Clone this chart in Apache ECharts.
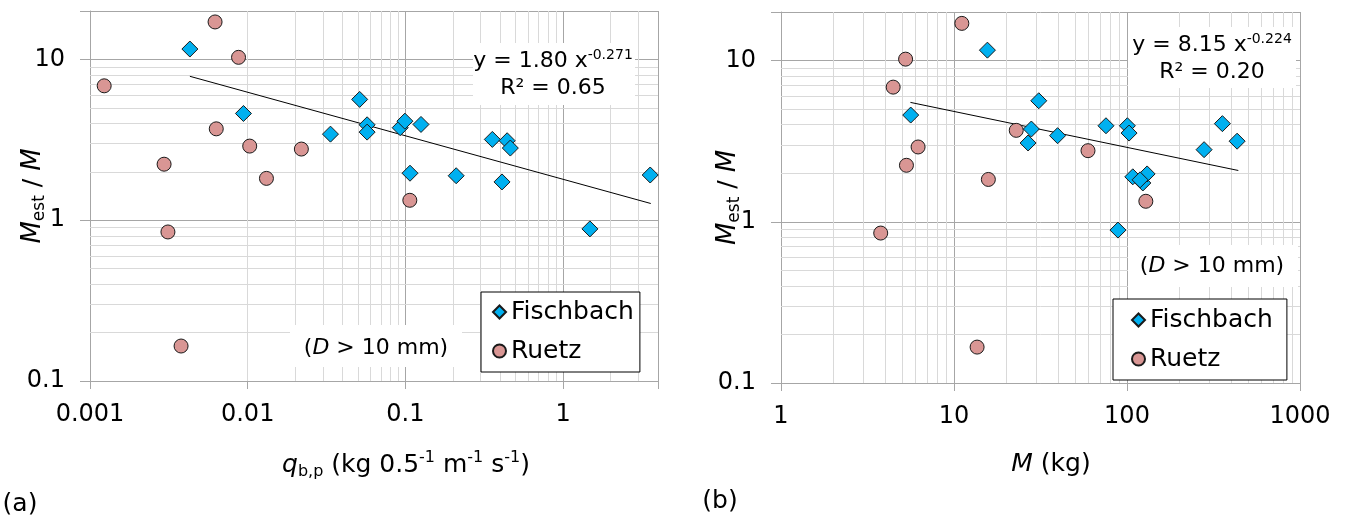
<!DOCTYPE html>
<html><head><meta charset="utf-8">
<script src="https://cdn.jsdelivr.net/npm/echarts@6/dist/echarts.min.js"></script>
<style>html,body{margin:0;padding:0;background:#fff}#c{width:1349px;height:522px}</style>
</head><body><div id="c"></div>
<script>
// ---------- data ----------
// Panel (a): x = q_b,p (kg 0.5^-1 m^-1 s^-1), y = M_est / M
const fischA_x = [0.0043, 0.0094, 0.0335, 0.0513, 0.0572, 0.0572, 0.0927, 0.0993, 0.1256, 0.107, 0.21, 0.356, 0.442, 0.463, 0.41, 1.48, 3.57];
const fischA_y = [11.6, 4.61, 3.43, 5.64, 3.92, 3.53, 3.76, 4.13, 3.94, 1.96, 1.89, 3.18, 3.12, 2.81, 1.73, 0.883, 1.91];
const ruetzA_x = [0.00123, 0.00621, 0.00875, 0.00632, 0.0103, 0.0219, 0.00295, 0.01315, 0.1067, 0.00312, 0.00378];
const ruetzA_y = [6.85, 17.1, 10.3, 3.70, 2.89, 2.77, 2.23, 1.82, 1.33, 0.845, 0.165];
const trendA_x = [0.0043, 3.6];
const trendA_y = [7.85, 1.27];
// Panel (b): x = M (kg), y = M_est / M
const fischB_x = [15.6, 5.62, 30.9, 28.0, 26.8, 39.7, 75.6, 100.5, 102.8, 108, 123.5, 130.7, 119, 88.7, 279, 356, 433];
const fischB_y = [11.6, 4.59, 5.63, 3.76, 3.08, 3.42, 3.94, 3.94, 3.55, 1.90, 1.74, 1.98, 1.82, 0.888, 2.80, 4.06, 3.16];
const ruetzB_x = [11.1, 5.25, 4.45, 3.77, 6.2, 5.31, 15.8, 22.9, 59.5, 128.5, 13.6];
const ruetzB_y = [17.0, 10.2, 6.84, 0.851, 2.91, 2.24, 1.83, 3.69, 2.76, 1.34, 0.167];
const trendB_x = [5.6, 440];
const trendB_y = [5.5, 2.08];
// axis ranges
const xRangeA = [0.001, 4];
const xRangeB = [1, 1000];
const yRange = [0.1, 20];
const minorMult = [2, 3, 4, 5, 6, 7, 8, 9];
const seriesNames = ['Fischbach', 'Ruetz'];

// ---------- helpers ----------
const FONT = '"DejaVu Sans", sans-serif';
const zip = (xs, ys) => xs.map((x, i) => [x, ys[i]]);
function minorValues(r) {
  const out = [];
  for (let e = Math.floor(Math.log10(r[0])); e <= Math.ceil(Math.log10(r[1])); e++) {
    for (const m of minorMult) {
      const v = +(m * Math.pow(10, e)).toPrecision(6);
      if (v > r[0] * 1.0001 && v < r[1] * 0.9999) out.push(v);
    }
  }
  return out;
}
function decadeLabel(v) {
  const l = Math.log10(v);
  if (Math.abs(l - Math.round(l)) > 1e-6) return '';
  return String(+Math.pow(10, Math.round(l)).toPrecision(6));
}
const MAJ = '#a6a6a6', MIN = '#d9d9d9';
function xAxisDef(grid, range, name, nameGap, rich, padLeft) {
  return {
    type: 'log', logBase: 10, gridIndex: grid, min: range[0], max: range[1],
    axisLine: { show: true, onZero: false, lineStyle: { color: MAJ, width: 1 } },
    axisTick: { show: true, length: 8, lineStyle: { color: MAJ } },
    axisLabel: { margin: 22, fontSize: 24, color: '#000', fontFamily: FONT, formatter: decadeLabel },
    splitLine: { show: true, lineStyle: { color: MAJ, width: 1 } },
    name: name, nameLocation: 'middle', nameGap: nameGap, nameMoveOverlap: false,
    nameTextStyle: { fontFamily: FONT, fontSize: 25, color: '#000', padding: [0, 0, 0, padLeft], rich: rich }
  };
}
function yAxisDef(grid, nameGap) {
  return {
    type: 'log', logBase: 10, gridIndex: grid, min: yRange[0], max: yRange[1],
    axisLine: { show: true, onZero: false, lineStyle: { color: MAJ, width: 1 } },
    axisTick: { show: true, length: 10, lineStyle: { color: MAJ } },
    axisLabel: { margin: 25, fontSize: 24, color: '#000', fontFamily: FONT, formatter: decadeLabel },
    splitLine: { show: true, lineStyle: { color: MAJ, width: 1 } },
    name: '{m|M}{s|est}{n| / }{m|M}', nameLocation: 'middle', nameRotate: 90, nameGap: nameGap,
    nameMoveOverlap: false,
    nameTextStyle: {
      fontFamily: FONT, fontSize: 25, color: '#000',
      rich: {
        m: { fontFamily: FONT, fontSize: 26, fontStyle: 'italic', lineHeight: 30, color: '#000' },
        s: { fontFamily: FONT, fontSize: 17, lineHeight: 12, verticalAlign: 'bottom', color: '#000' },
        n: { fontFamily: FONT, fontSize: 25, lineHeight: 30, color: '#000' }
      }
    }
  };
}
const richX = {
  i: { fontFamily: FONT, fontSize: 25, fontStyle: 'italic', lineHeight: 30, color: '#000' },
  t: { fontFamily: FONT, fontSize: 25, lineHeight: 30, color: '#000' },
  sub: { fontFamily: FONT, fontSize: 16, lineHeight: 12, verticalAlign: 'bottom', color: '#000' },
  sup: { fontFamily: FONT, fontSize: 16, lineHeight: 16, verticalAlign: 'top', color: '#000' }
};
function gridSeries(xi, xr) {
  const data = minorValues(xr).map(v => ({ xAxis: v })).concat(minorValues(yRange).map(v => ({ yAxis: v })));
  return {
    type: 'line', xAxisIndex: xi, yAxisIndex: xi, data: [], z: 1, silent: true,
    markLine: { z: 1, silent: true, animation: false, symbol: ['none', 'none'], label: { show: false },
      lineStyle: { color: MIN, width: 1, type: 'solid' }, emphasis: { disabled: true }, data: data }
  };
}
function scatter(name, xi, xs, ys) {
  const fis = name === 'Fischbach';
  return {
    name: name, type: 'scatter', xAxisIndex: xi, yAxisIndex: xi, z: 3,
    symbol: fis ? 'diamond' : 'circle', symbolSize: fis ? 16 : 14,
    itemStyle: { color: fis ? '#00b0f0' : '#d99694', borderColor: '#1a1a1a', borderWidth: 1, opacity: 1 },
    data: zip(xs, ys)
  };
}
function trend(xi, xs, ys) {
  return { type: 'line', xAxisIndex: xi, yAxisIndex: xi, z: 2, showSymbol: false, symbol: 'none',
    lineStyle: { color: '#000', width: 1 }, data: zip(xs, ys) };
}
function legendDef(left, top, padding) {
  return {
    data: seriesNames, orient: 'vertical', left: left, top: top, padding: padding, itemGap: 9,
    itemWidth: 13, itemHeight: 13, selectedMode: false,
    backgroundColor: '#fff', borderColor: '#000', borderWidth: 1, borderRadius: 0,
    textStyle: { fontFamily: FONT, fontSize: 25, lineHeight: 30, color: '#000' }
  };
}
const eqRich = {
  t: { fontFamily: FONT, fontSize: 22, lineHeight: 27, fill: '#000' },
  s: { fontFamily: FONT, fontSize: 14, lineHeight: 14, verticalAlign: 'top', fill: '#000' }
};
const dRich = {
  t: { fontFamily: FONT, fontSize: 22, lineHeight: 27, fill: '#000' },
  i: { fontFamily: FONT, fontSize: 22, lineHeight: 27, fontStyle: 'italic', fill: '#000' }
};
function box(x, y, w, h) {
  return { type: 'rect', z: 6, silent: true, shape: { x: x, y: y, width: w, height: h }, style: { fill: '#fff' } };
}
function label(x, y, text, rich, size) {
  return { type: 'text', z: 7, silent: true, x: x, y: y,
    style: { text: text, rich: rich, fill: '#000', fontFamily: FONT, fontSize: size || 22,
      align: 'center', verticalAlign: 'middle', textAlign: 'center', textVerticalAlign: 'middle' } };
}

const chart = echarts.init(document.getElementById('c'), null, { renderer: 'canvas' });
chart.setOption({
  animation: false,
  backgroundColor: '#fff',
  grid: [
    { left: 90, top: 11, width: 568, height: 370 },
    { left: 781, top: 12, width: 519, height: 371 }
  ],
  xAxis: [
    xAxisDef(0, xRangeA, '{i|q}{sub|b,p}{t| (kg 0.5}{sup|-1}{t| m}{sup|-1}{t| s}{sup|-1}{t|)}', 69, richX, 64),
    xAxisDef(1, xRangeB, '{i|M}{t| (kg)}', 66, richX, 21)
  ],
  yAxis: [yAxisDef(0, 42), yAxisDef(1, 38)],
  legend: [legendDef(481, 292, [5, 6, 6, 11]), legendDef(1113, 299, [6, 14, 6, 18])],
  graphic: [
    box(473, 43, 162, 62),
    label(553, 75, '{t|y = 1.80 x}{s|-0.271}\n{t|R² = 0.65}', eqRich),
    box(290, 325, 172, 42),
    label(376, 348, '{t|(}{i|D}{t| > 10 mm)}', dRich),
    box(1128, 27, 168, 61),
    label(1212, 59, '{t|y = 8.15 x}{s|-0.224}\n{t|R² = 0.20}', eqRich),
    box(1128, 245, 170, 42),
    label(1212, 266, '{t|(}{i|D}{t| > 10 mm)}', dRich),
    label(20, 504, '(a)', null, 25),
    label(720, 501, '(b)', null, 25)
  ],
  series: [
    gridSeries(0, xRangeA),
    gridSeries(1, xRangeB),
    trend(0, trendA_x, trendA_y),
    trend(1, trendB_x, trendB_y),
    scatter('Ruetz', 0, ruetzA_x, ruetzA_y),
    scatter('Fischbach', 0, fischA_x, fischA_y),
    scatter('Ruetz', 1, ruetzB_x, ruetzB_y),
    scatter('Fischbach', 1, fischB_x, fischB_y)
  ]
});
</script></body></html>
